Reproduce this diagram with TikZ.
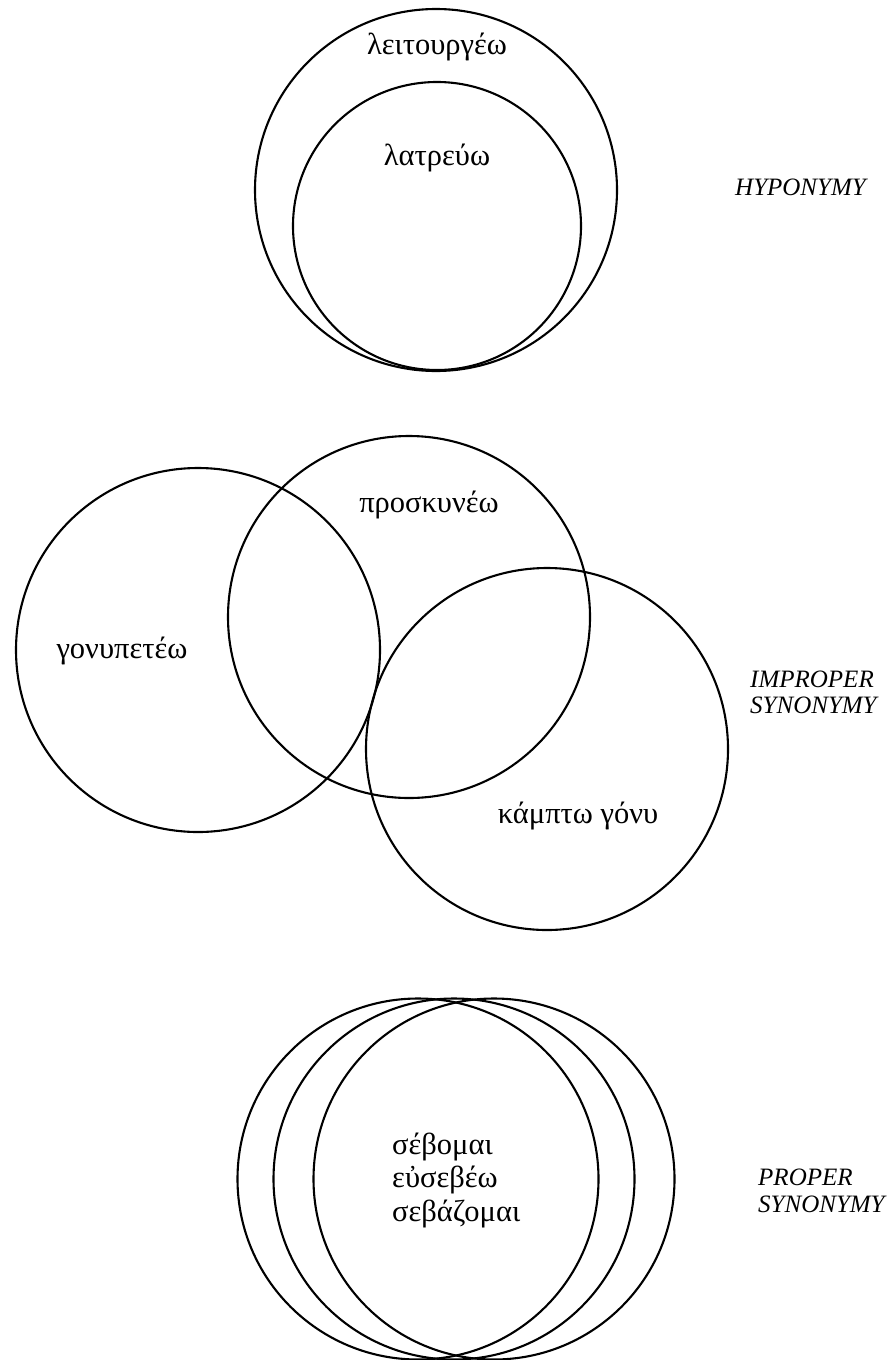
\documentclass[tikz,border=0pt]{standalone}
\usepackage{fontspec}
\setmainfont{Liberation Serif}
\usepackage{tikz}
\usetikzlibrary{positioning}

\tikzset{
    venn/.style={draw, circle, line width=2.1pt, inner sep=0pt},
    word/.style={font=\fontsize{30.5}{34}\selectfont, inner sep=0pt},
    relation/.style={font=\fontsize{25}{27}\selectfont\itshape, inner sep=0pt, anchor=base west}
}

\begin{document}
\begin{tikzpicture}[x=1pt, y=-1pt]
    \useasboundingbox (0,0) rectangle (893,1360);

    % hyponymy
    \node[venn, minimum size=362pt] (leit) at (436,190) {};
    \node[venn, minimum size=288pt] (latr) at (437,226) {};
    \node[word, anchor=base] (leitw) at (437,54) {λειτουργέω};
    \node[word, anchor=base] (latrw) at (437,165) {λατρεύω};

    % improper synonymy
    \node[venn, minimum size=364pt] (gonu) at (198,650) {};
    \node[venn, minimum size=362pt] (pros) at (409,617) {};
    \node[venn, minimum size=362pt] (kamp) at (547,749) {};
    \node[word, anchor=base] (gonuw) at (122,658) {γονυπετέω};
    \node[word, anchor=base] (prosw) at (429,512) {προσκυνέω};
    \node[word, anchor=base] (kampw) at (578,823) {κάμπτω γόνυ};

    % proper synonymy
    \node[venn, minimum size=361pt] (seb) at (418,1179) {};
    \node[venn, minimum size=361pt] (eus) at (454,1179) {};
    \node[venn, minimum size=361pt] (sebaz) at (494,1179) {};
    \node[word, anchor=base west] (sebw) at (392,1154) {σέβομαι};
    \node[word, anchor=base west] (eusw) at (392,1187) {εὐσεβέω};
    \node[word, anchor=base west] (sebazw) at (392,1221) {σεβάζομαι};

    \node[relation] (hypo) at (735,195) {HYPONYMY};
    \node[relation] (impr) at (750,687) {IMPROPER};
    \node[relation] (imprs) at (750,713) {SYNONYMY};
    \node[relation] (prop) at (758,1185) {PROPER};
    \node[relation] (props) at (758,1212) {SYNONYMY};
\end{tikzpicture}
\end{document}
